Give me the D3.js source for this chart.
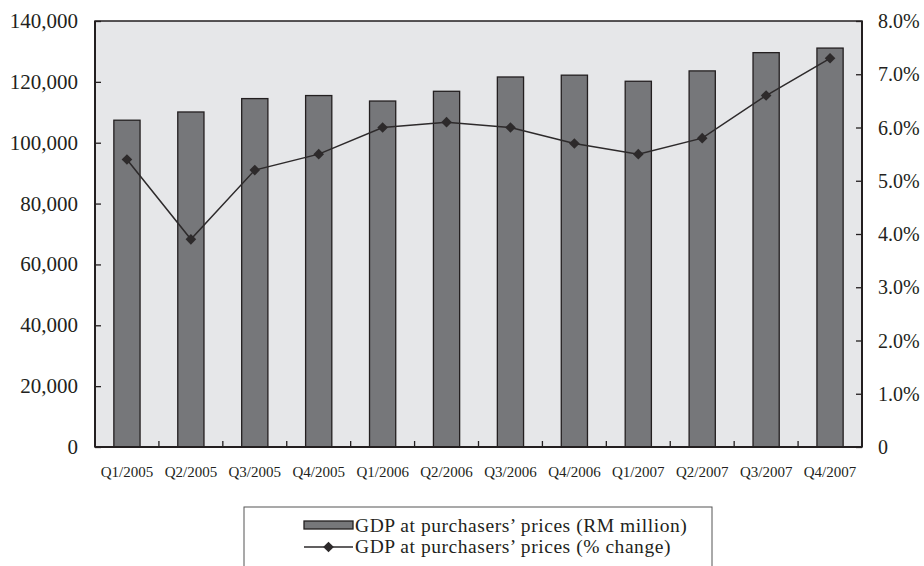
<!DOCTYPE html>
<html>
<head>
<meta charset="utf-8">
<script src="https://cdn.jsdelivr.net/npm/d3@7"></script>
<style>
  body { margin: 0; background: #fff; }
  svg text { font-family: "Liberation Serif", "DejaVu Serif", serif; fill: #231f20; }
</style>
</head>
<body>
<svg class="chart"></svg>
<script>
const quarters = ["Q1/2005", "Q2/2005", "Q3/2005", "Q4/2005", "Q1/2006", "Q2/2006",
                  "Q3/2006", "Q4/2006", "Q1/2007", "Q2/2007", "Q3/2007", "Q4/2007"]
const gdpValues = [107400, 110100, 114500, 115500, 113700, 116900,
                   121600, 122200, 120200, 123600, 129600, 131100]
const gdpChange = [5.4, 3.9, 5.2, 5.5, 6.0, 6.1, 6.0, 5.7, 5.5, 5.8, 6.6, 7.3]
const leftTicks = [0, 20000, 40000, 60000, 80000, 100000, 120000, 140000]
const rightTicks = [0, 1, 2, 3, 4, 5, 6, 7, 8]
const legendLabels = ["GDP at purchasers\u2019 prices (RM million)",
                      "GDP at purchasers\u2019 prices (% change)"]

const width = 924, height = 566
const plotLeft = 95, plotRight = 862, plotTop = 21, plotBottom = 447

const svg = d3.select("svg.chart")
    .attr("width", width)
    .attr("height", height)

const x = d3.scaleBand()
    .domain(quarters)
    .range([plotLeft, plotRight])
    .paddingInner(0.59)
    .paddingOuter(0.295)

const xCat = d3.scaleBand()
    .domain(quarters)
    .range([plotLeft, plotRight])

const yLeft = d3.scaleLinear()
    .domain([0, 140000])
    .range([plotBottom, plotTop])

const yRight = d3.scaleLinear()
    .domain([0, 8])
    .range([plotBottom, plotTop])

// plot background
svg.append("rect")
    .attr("x", plotLeft)
    .attr("y", plotTop)
    .attr("width", plotRight - plotLeft)
    .attr("height", plotBottom - plotTop)
    .style("fill", "#e6e7e9")
    .style("stroke", "#231f20")
    .style("stroke-width", 1.5)

// bars
svg.append("g")
    .selectAll("rect")
    .data(gdpValues)
    .enter()
    .append("rect")
    .attr("x", (d, i) => x(quarters[i]))
    .attr("y", d => yLeft(d))
    .attr("width", x.bandwidth())
    .attr("height", d => plotBottom - yLeft(d))
    .style("fill", "#76777a")
    .style("stroke", "#231f20")
    .style("stroke-width", 1.3)

// left axis
const leftAxis = svg.append("g")
    .attr("transform", "translate(" + plotLeft + ",0)")
    .call(d3.axisRight(yLeft).tickValues(leftTicks).tickSize(6).tickFormat(""))
leftAxis.select(".domain").remove()
leftAxis.selectAll("line").style("stroke", "#231f20").style("stroke-width", 1.3)

svg.append("g")
    .selectAll("text")
    .data(leftTicks)
    .enter()
    .append("text")
    .attr("x", plotLeft - 17)
    .attr("y", d => yLeft(d) + 7)
    .attr("text-anchor", "end")
    .style("font-size", "21px")
    .text(d => d3.format(",")(d))

// right axis
const rightAxis = svg.append("g")
    .attr("transform", "translate(" + plotRight + ",0)")
    .call(d3.axisLeft(yRight).tickValues(rightTicks).tickSize(6).tickFormat(""))
rightAxis.select(".domain").remove()
rightAxis.selectAll("line").style("stroke", "#231f20").style("stroke-width", 1.3)

svg.append("g")
    .selectAll("text")
    .data(rightTicks)
    .enter()
    .append("text")
    .attr("x", plotRight + 16)
    .attr("y", d => yRight(d) + 7)
    .style("font-size", "20px")
    .text(d => d === 0 ? "0" : d.toFixed(1) + "%")

// bottom axis, ticks between categories
svg.append("g")
    .selectAll("line")
    .data(quarters.slice(1))
    .enter()
    .append("line")
    .attr("x1", d => xCat(d))
    .attr("x2", d => xCat(d))
    .attr("y1", plotBottom)
    .attr("y2", plotBottom - 6)
    .style("stroke", "#231f20")
    .style("stroke-width", 1.3)

svg.append("line")
    .attr("x1", plotLeft).attr("x2", plotRight)
    .attr("y1", plotBottom).attr("y2", plotBottom)
    .style("stroke", "#231f20").style("stroke-width", 2)
svg.append("line")
    .attr("x1", plotLeft).attr("x2", plotLeft)
    .attr("y1", plotTop).attr("y2", plotBottom)
    .style("stroke", "#231f20").style("stroke-width", 2)
svg.append("line")
    .attr("x1", plotRight).attr("x2", plotRight)
    .attr("y1", plotTop).attr("y2", plotBottom)
    .style("stroke", "#231f20").style("stroke-width", 2)

svg.append("g")
    .selectAll("text")
    .data(quarters)
    .enter()
    .append("text")
    .attr("x", d => xCat(d) + xCat.bandwidth() / 2)
    .attr("y", 477)
    .attr("text-anchor", "middle")
    .style("font-size", "15px")
    .text(d => d)

// line
const line = d3.line()
    .x((d, i) => xCat(quarters[i]) + xCat.bandwidth() / 2)
    .y(d => yRight(d))

svg.append("path")
    .datum(gdpChange)
    .attr("d", line)
    .style("fill", "none")
    .style("stroke", "#2d2a2b")
    .style("stroke-width", 1.5)

const diamond = d3.symbol().type(d3.symbolDiamond2).size(72)

svg.append("g")
    .selectAll("path")
    .data(gdpChange)
    .enter()
    .append("path")
    .attr("d", diamond)
    .attr("transform", (d, i) => "translate(" + (xCat(quarters[i]) + xCat.bandwidth() / 2) + "," + yRight(d) + ")")
    .style("fill", "#2d2a2b")

// legend
svg.append("rect")
    .attr("x", 244)
    .attr("y", 507)
    .attr("width", 468)
    .attr("height", 70)
    .style("fill", "none")
    .style("stroke", "#555")
    .style("stroke-width", 1)

svg.append("rect")
    .attr("x", 304)
    .attr("y", 521)
    .attr("width", 49)
    .attr("height", 8)
    .style("fill", "#76777a")
    .style("stroke", "#231f20")
    .style("stroke-width", 1.3)

svg.append("line")
    .attr("x1", 304).attr("x2", 353)
    .attr("y1", 547).attr("y2", 547)
    .style("stroke", "#2d2a2b").style("stroke-width", 1.5)

svg.append("path")
    .attr("d", diamond)
    .attr("transform", "translate(328.5,547)")
    .style("fill", "#2d2a2b")

svg.append("g")
    .selectAll("text")
    .data(legendLabels)
    .enter()
    .append("text")
    .attr("x", 355)
    .attr("y", (d, i) => 532 + i * 21)
    .style("font-size", "19.5px")
    .style("letter-spacing", "0.55px")
    .text(d => d)
</script>
</body>
</html>
